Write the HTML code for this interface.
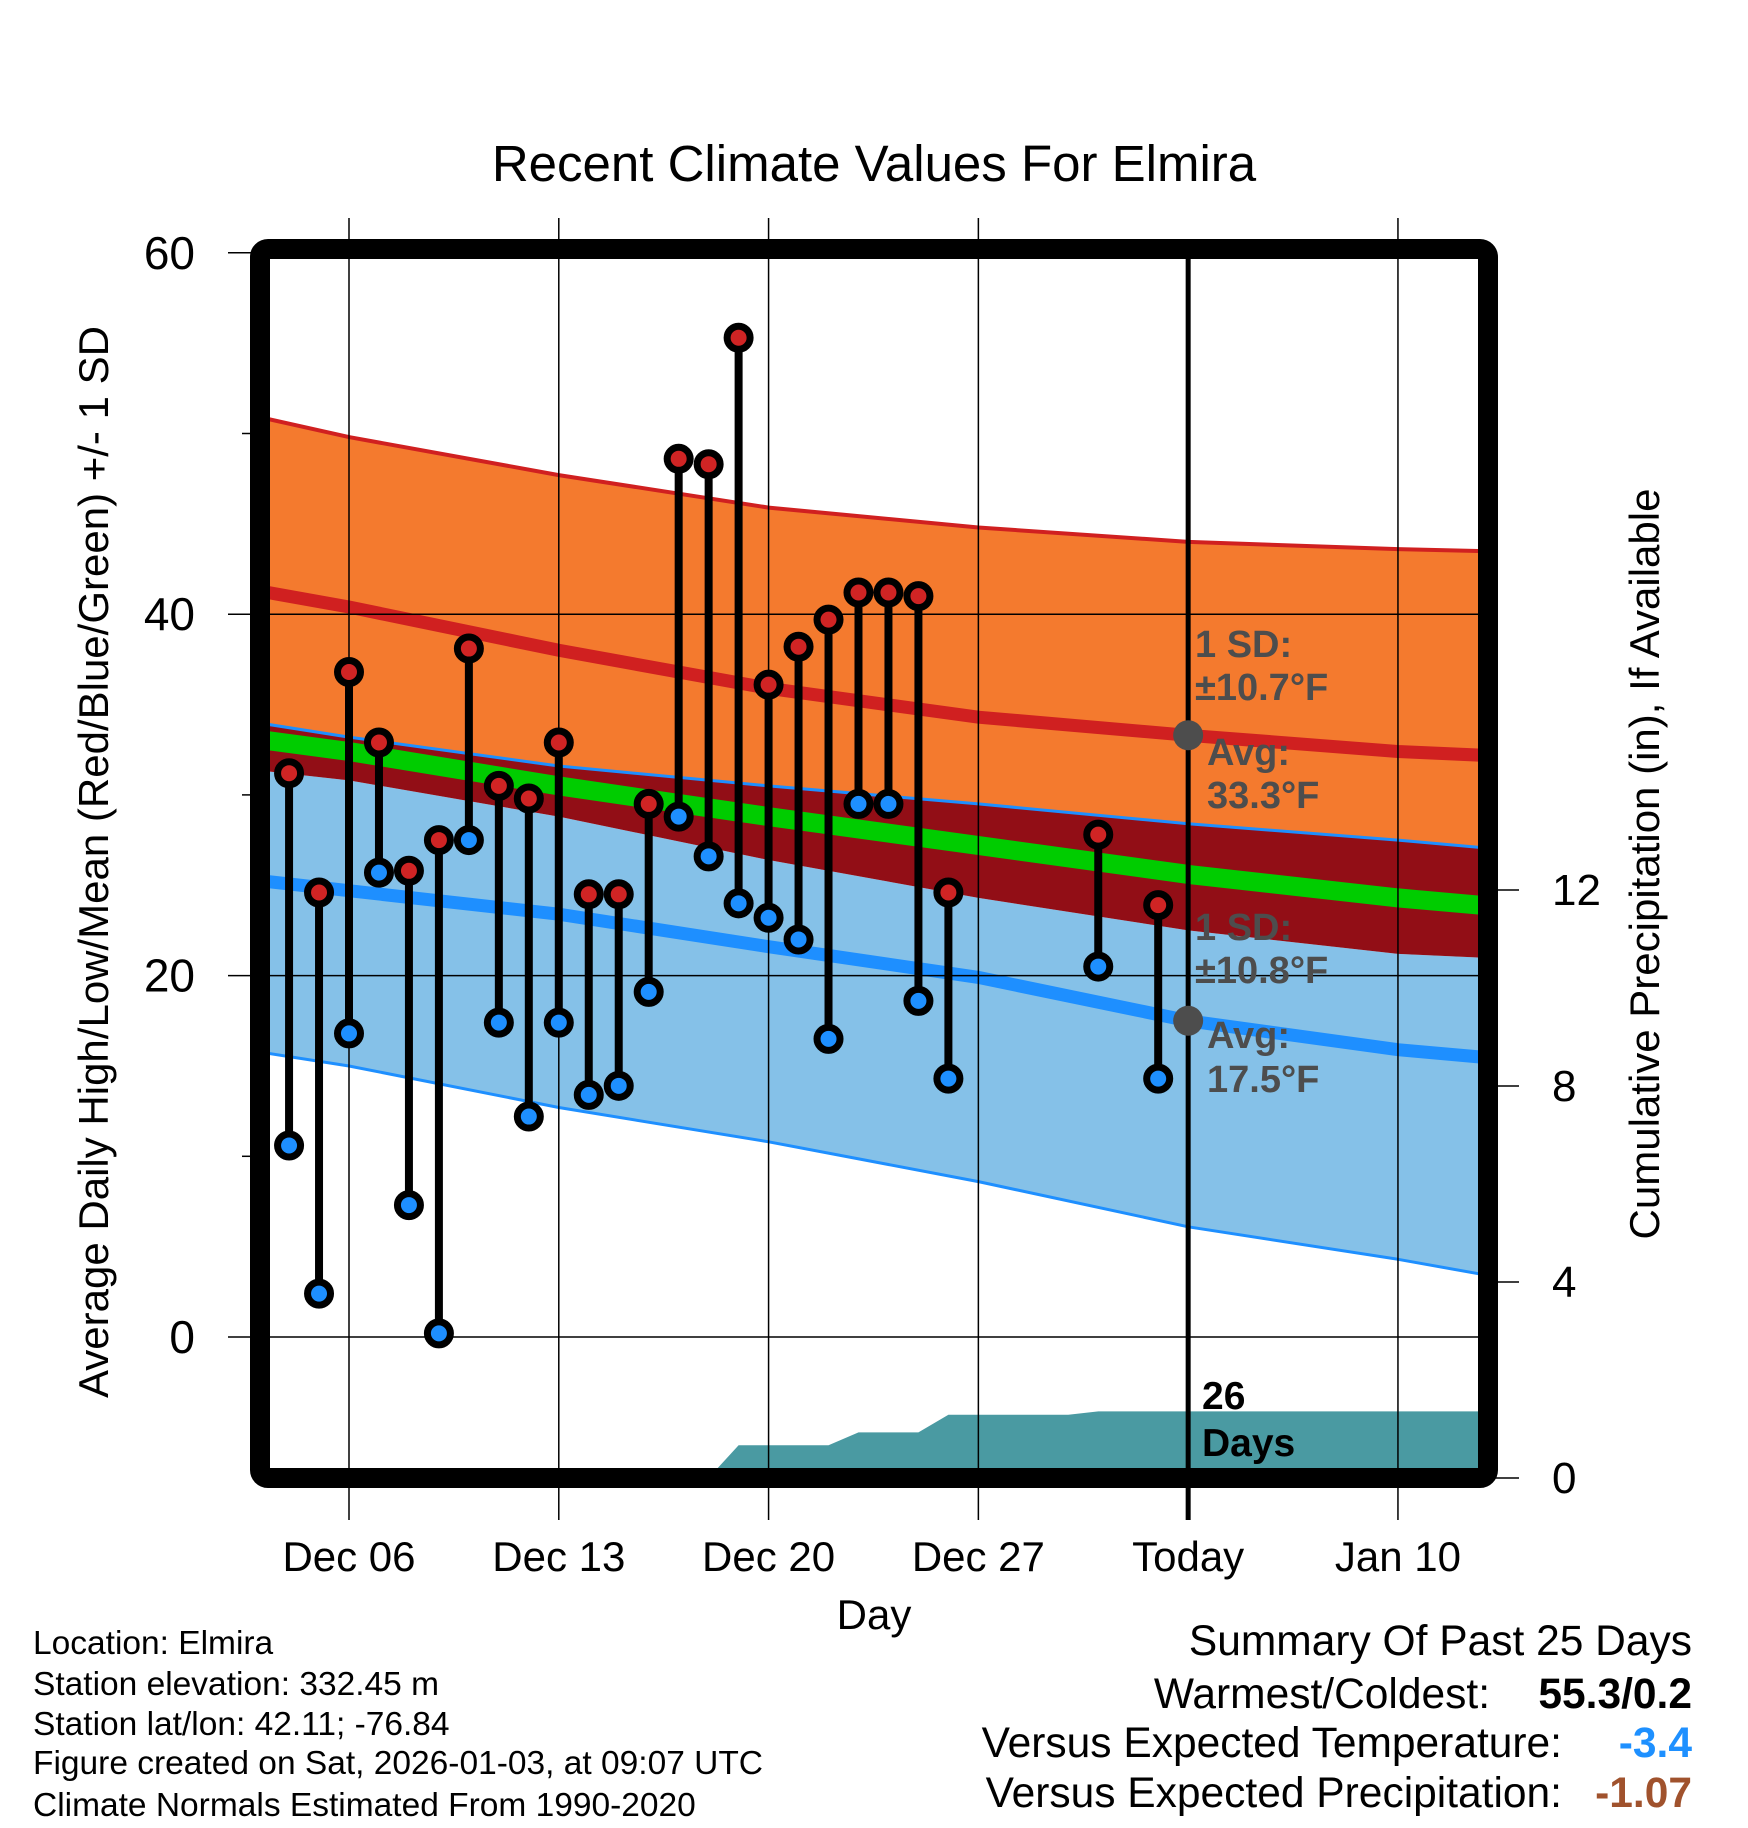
<!DOCTYPE html>
<html><head><meta charset="utf-8"><style>
html,body{margin:0;padding:0;background:#fff}
svg{display:block;font-family:"Liberation Sans",sans-serif}
</style></head><body>
<svg id="chart" width="1748" height="1828" viewBox="0 0 1748 1828" xmlns="http://www.w3.org/2000/svg">
<rect width="1748" height="1828" fill="#fff"/>
<defs><clipPath id="pc"><rect x="270" y="260" width="1208" height="1208"/></clipPath></defs>
<g id="bands" clip-path="url(#pc)"></g>
<g id="grid"></g>
<g id="marks" clip-path="url(#pc)"></g>
<g id="frame">
<rect x="260" y="249" width="1228" height="1229" rx="8" fill="none" stroke="#000" stroke-width="20"/>
</g>
<g id="axes"></g>
<text x="874" y="181" font-size="51" text-anchor="middle">Recent Climate Values For Elmira</text>
<text transform="translate(108,862) rotate(-90)" font-size="42" text-anchor="middle">Average Daily High/Low/Mean (Red/Blue/Green) +/- 1 SD</text>
<text transform="translate(1659,864) rotate(-90)" font-size="42" text-anchor="middle">Cumulative Precipitation (in), If Available</text>
<text x="874" y="1629" font-size="42" text-anchor="middle">Day</text>
<g font-size="33.5">
<text x="33" y="1654">Location: Elmira</text>
<text x="33" y="1695">Station elevation: 332.45 m</text>
<text x="33" y="1735">Station lat/lon: 42.11; -76.84</text>
<text x="33" y="1774">Figure created on Sat, 2026-01-03, at 09:07 UTC</text>
<text x="33" y="1816">Climate Normals Estimated From 1990-2020</text>
</g>
<g font-size="42.5">
<text x="1692" y="1655" text-anchor="end">Summary Of Past 25 Days</text>
<text x="1490" y="1708" text-anchor="end">Warmest/Coldest:</text>
<text x="1692" y="1708" text-anchor="end" font-weight="bold">55.3/0.2</text>
<text x="1562" y="1757" text-anchor="end">Versus Expected Temperature:</text>
<text x="1692" y="1757" text-anchor="end" font-weight="bold" fill="#1e90ff">-3.4</text>
<text x="1562" y="1807" text-anchor="end">Versus Expected Precipitation:</text>
<text x="1692" y="1807" text-anchor="end" font-weight="bold" fill="#a0522d">-1.07</text>
</g>
</svg>
<script>
// ---- data ----
const obsDays = [-2,-1,0,1,2,3,4,5,6,7,8,9,10,11,12,13,14,15,16,17,18,19,20,25,27]; // days from Dec 06
const highs = [31.2,24.6,36.8,32.9,25.8,27.5,38.1,30.5,29.8,32.9,24.5,24.5,29.5,48.6,48.3,55.3,36.1,38.2,39.7,41.2,41.2,41.0,24.6,27.8,23.9];
const lows  = [10.6,2.4,16.8,25.7,7.3,0.2,27.5,17.4,12.2,17.4,13.4,13.9,19.1,28.8,26.6,24.0,23.2,22.0,16.5,29.5,29.5,18.6,14.3,20.5,14.3];
const normDays = [-2.7,0,7,14,21,28,35,37.7];
const hiPlus  = [50.8,49.8,47.7,45.9,44.8,44.0,43.6,43.5];
const hiAvg   = [41.2,40.4,38.0,35.9,34.3,33.3,32.4,32.2];
const hiMinus = [33.9,33.2,31.6,30.5,29.5,28.4,27.5,27.1];
const meanT   = [33.0,32.4,30.5,28.8,27.2,25.6,24.3,23.9];
const loPlus  = [31.3,30.8,28.8,26.4,24.3,22.5,21.2,21.0];
const loAvg   = [25.2,24.7,23.4,21.6,19.9,17.5,15.9,15.5];
const loMinus = [15.7,15.0,12.7,10.8,8.6,6.1,4.3,3.5];
const precipDays = [12,13,16,17,19,20,24,25,37.7];
const precipVals = [0,0.67,0.67,0.93,0.93,1.29,1.29,1.36,1.36];
const xTickDays = [0,7,14,21,28,35];
const xTickLabels = ["Dec 06","Dec 13","Dec 20","Dec 27","Today","Jan 10"];
const yTicks = [0,20,40,60];
const yMinor = [10,30,50];
const pTicks = [0,4,8,12];
const todayDay = 28;
const todayHi = 33.3, todayLo = 17.5;

// ---- scales ----
const X = d => 349 + d*29.97;
const Y = v => 1337 - v*18.07;
const P = v => 1478 - v*49;
const NS = "http://www.w3.org/2000/svg";
function mk(tag, attrs, parent){const e=document.createElementNS(NS,tag);for(const k in attrs)e.setAttribute(k,attrs[k]);parent.appendChild(e);return e;}
const pts = arr => arr.map((v,i)=>X(normDays[i]).toFixed(1)+","+Y(v).toFixed(1));
const bands=document.getElementById('bands'), grid=document.getElementById('grid'), marks=document.getElementById('marks'), axes=document.getElementById('axes');

function area(top,bot,fill,name){
  const p=pts(top).concat(pts(bot).reverse());
  const e=mk('polygon',{points:p.join(' '),fill:fill},bands);
  
  
}
function line(arr,color,w,name){
  const e=mk('polyline',{points:pts(arr).join(' '),fill:'none',stroke:color,'stroke-width':w},bands);
  
  
}
area(hiPlus,hiMinus,'#f47a2e','high-sd-band');
area(loPlus,loMinus,'#85c1e8','low-sd-band');
area(hiMinus,loPlus,'#920e16','overlap-band');
line(hiPlus,'#d02020',4,'high-plus-sd-line');
line(hiMinus,'#1e8fff',3,'high-minus-sd-line');
line(loMinus,'#1e8fff',3,'low-minus-sd-line');
line(meanT,'#00cc00',19,'mean-line');
line(loAvg,'#1e8fff',13,'low-average-line');
line(hiAvg,'#d02020',13,'high-average-line');

// precipitation area
{
  const pp=precipDays.map((d,i)=>X(d).toFixed(1)+","+P(precipVals[i]).toFixed(1));
  pp.push(X(precipDays[precipDays.length-1]).toFixed(1)+",1480");
  pp.push(X(precipDays[0]).toFixed(1)+",1480");
  const e=mk('polygon',{points:pp.join(' '),fill:'#4a9aa2'},bands);
  
  
}

// grid
xTickDays.forEach((d,i)=>{
  const isToday = d===todayDay;
  const g=mk('line',{x1:X(d),x2:X(d),y1:isToday?249:218,y2:1520,stroke:'#000','stroke-width':isToday?5:1.5},grid);
  
  
  const t=mk('text',{x:X(d),y:1571,'font-size':42,'text-anchor':'middle'},axes);
  t.textContent=xTickLabels[i];
  
  
});
yTicks.forEach(v=>{
  const g=mk('line',{x1:228,x2:1478,y1:Y(v),y2:Y(v),stroke:'#000','stroke-width':1.5},grid);
  
  
  const t=mk('text',{x:195,y:Y(v)+16,'font-size':46,'text-anchor':'end'},axes);
  t.textContent=v;
  
  
});
yMinor.forEach(v=>{
  const g=mk('line',{x1:242,x2:255,y1:Y(v),y2:Y(v),stroke:'#000','stroke-width':1.5},axes);
  
  
});
pTicks.forEach(v=>{
  const g=mk('line',{x1:1495,x2:1519,y1:P(v),y2:P(v),stroke:'#000','stroke-width':1.5},axes);
  
  
  const t=mk('text',{x:1552,y:P(v)+15,'font-size':44},axes);
  t.textContent=v;
  
  
});

// observations
obsDays.forEach((d,i)=>{
  const s=mk('line',{x1:X(d),x2:X(d),y1:Y(highs[i]),y2:Y(lows[i]),stroke:'#000','stroke-width':8},marks);
  
  
  const h=mk('circle',{cx:X(d),cy:Y(highs[i]),r:11.5,fill:'#d02424',stroke:'#000','stroke-width':7},marks);
  
  
  const l=mk('circle',{cx:X(d),cy:Y(lows[i]),r:11.5,fill:'#1e8fff',stroke:'#000','stroke-width':7},marks);
  
  
});
[todayHi,todayLo].forEach(v=>{
  const c=mk('circle',{cx:X(todayDay),cy:Y(v),r:15,fill:'#4d4d4d'},marks);
  
  
});

// annotations
const ann=[["1 SD:",1195,657],["±10.7°F",1195,700],["Avg:",1207,765],["33.3°F",1207,808],
           ["1 SD:",1195,940],["±10.8°F",1195,983],["Avg:",1207,1048],["17.5°F",1207,1092]];
ann.forEach(a=>{
  const t=mk('text',{x:a[1],y:a[2],'font-size':38,'font-weight':'bold',fill:'#4d4d4d'},axes);
  t.textContent=a[0];
  
  
});
[["26",1409],["Days",1456]].forEach(a=>{
  const t=mk('text',{x:1202,y:a[1],'font-size':39,'font-weight':'bold',fill:'#000'},axes);
  t.textContent=a[0];
  
  
});
</script>
</body></html>
